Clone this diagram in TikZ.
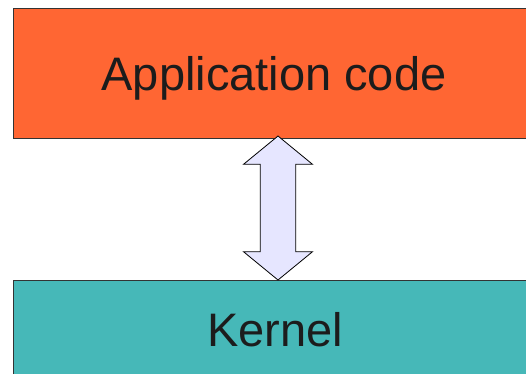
\documentclass[tikz,border=0pt]{standalone}
\usepackage{fontspec}
\setmainfont{Liberation Sans}

\definecolor{AppOrange}{HTML}{FF6633}
\definecolor{KernelTeal}{HTML}{46B8B8}
\definecolor{ArrowFill}{HTML}{E6E6FF}
\definecolor{Ink}{HTML}{1C1C1C}

\tikzset{
  layer/.style={draw=black!80, line width=0.8, text=Ink, inner sep=0pt,
    font=\fontsize{47}{56}\selectfont, text height=34pt, text depth=0pt},
}

\begin{document}
\begin{tikzpicture}[x=1pt, y=-1pt]
 \useasboundingbox (0,0) rectangle (526,373);

 %%%%%%%%%% Layers %%%%%%%%%%
 \node[layer, fill=AppOrange, minimum width=522, minimum height=130] (app) at (274,73) {Application code};
 \node[layer, fill=KernelTeal, minimum width=524, minimum height=98] (kernel) at (275,329) {Kernel};

 %%%%%%%%%% Points of the double arrow %%%%%%%%%%
 \coordinate (tipA) at (278,136);
 \coordinate (tipB) at (278,280);
 \coordinate (headA) at (278,164.3);
 \coordinate (headB) at (278,251.7);

 %%%%%%%%%% Double arrow between the layers %%%%%%%%%%
 \filldraw[fill=ArrowFill, draw=black, line width=0.8, line join=miter]
   (tipA) -- ([xshift=-34.5]headA) -- ([xshift=-17.7]headA)
   -- ([xshift=-17.7]headB) -- ([xshift=-34.5]headB) -- (tipB)
   -- ([xshift=34.5]headB) -- ([xshift=17.7]headB)
   -- ([xshift=17.7]headA) -- ([xshift=34.5]headA) -- cycle;

\end{tikzpicture}
\end{document}
